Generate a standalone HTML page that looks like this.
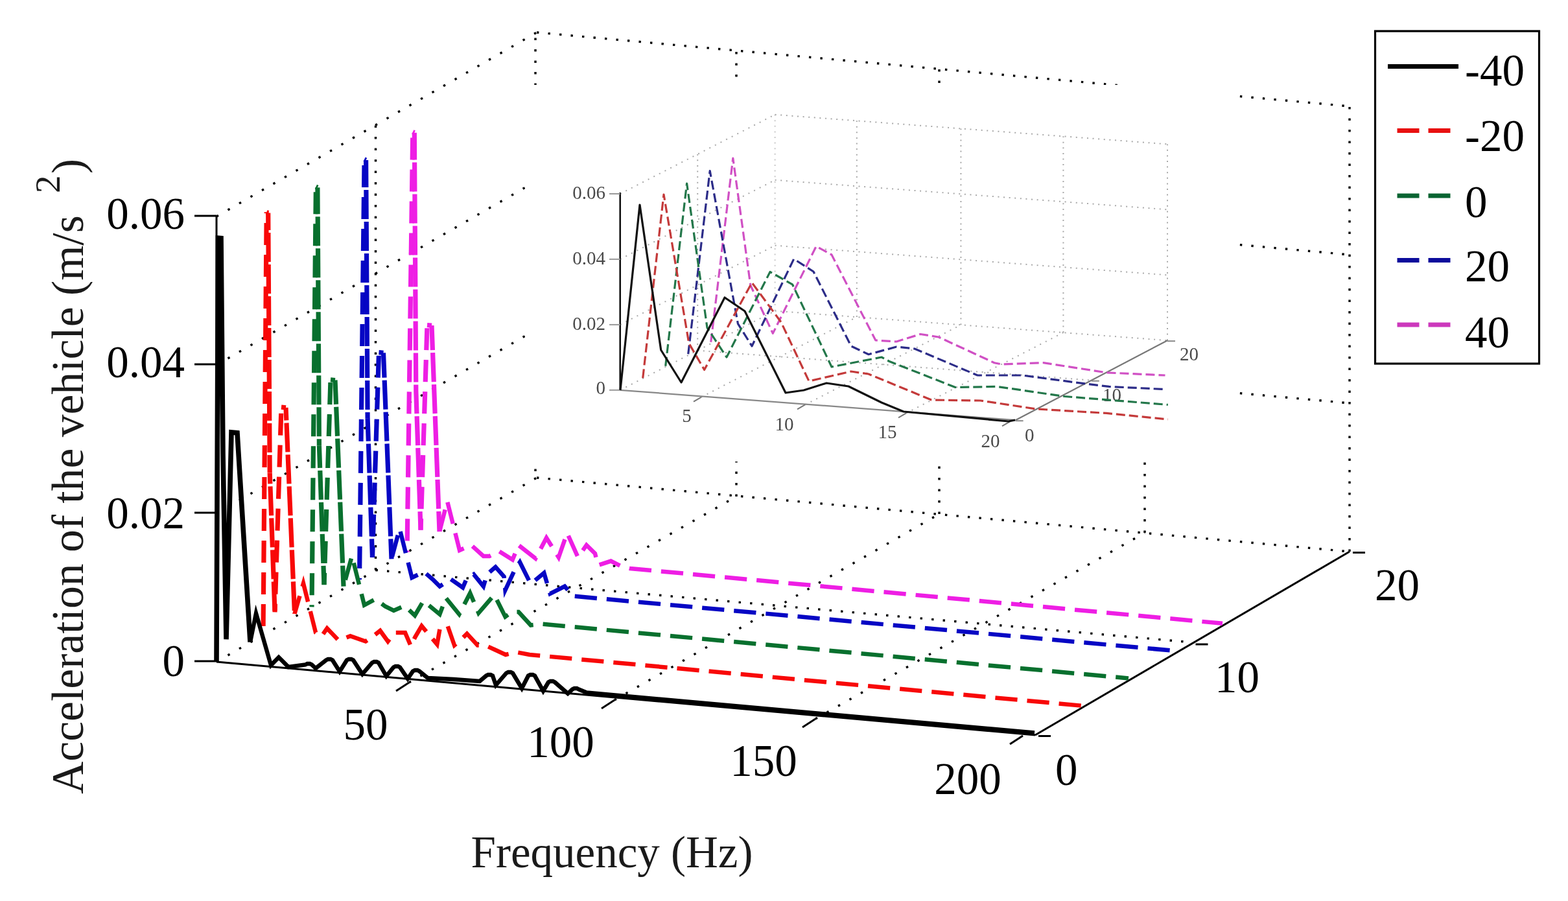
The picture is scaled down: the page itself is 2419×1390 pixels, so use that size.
<!DOCTYPE html>
<html><head><meta charset="utf-8"><title>Acceleration spectrum</title>
<style>html,body{margin:0;padding:0;background:#fff;}svg{display:block;}text{font-family:"Liberation Serif","Times New Roman",serif;}</style>
</head><body>
<svg width="2419" height="1390" viewBox="0 0 2419 1390">
<rect width="2419" height="1390" fill="#fff"/>
<line x1="334.0" y1="792.0" x2="828.0" y2="508.0" stroke="#000" stroke-width="3.4" stroke-dasharray="3.4 16.79" />
<line x1="334.0" y1="563.0" x2="828.0" y2="279.0" stroke="#000" stroke-width="3.4" stroke-dasharray="3.4 16.79" />
<line x1="334.0" y1="334.0" x2="828.0" y2="50.0" stroke="#000" stroke-width="3.4" stroke-dasharray="3.4 16.79" />
<line x1="334.0" y1="1021.0" x2="828.0" y2="737.0" stroke="#000" stroke-width="3.4" stroke-dasharray="3.4 16.79" />
<line x1="579.5" y1="879.5" x2="579.5" y2="192.5" stroke="#000" stroke-width="3.4" stroke-dasharray="3.4 14.10" />
<line x1="826.0" y1="727.0" x2="826.0" y2="50.0" stroke="#000" stroke-width="3.4" stroke-dasharray="3.4 14.10" />
<line x1="828.0" y1="737.0" x2="2082.0" y2="851.0" stroke="#000" stroke-width="3.4" stroke-dasharray="3.4 14.17" />
<line x1="828.0" y1="508.0" x2="2082.0" y2="622.0" stroke="#000" stroke-width="3.4" stroke-dasharray="3.4 14.17" />
<line x1="828.0" y1="279.0" x2="2082.0" y2="393.0" stroke="#000" stroke-width="3.4" stroke-dasharray="3.4 14.17" />
<line x1="828.0" y1="50.0" x2="2082.0" y2="164.0" stroke="#000" stroke-width="3.4" stroke-dasharray="3.4 14.17" />
<line x1="1136.0" y1="766.0" x2="1136.0" y2="79.0" stroke="#000" stroke-width="3.4" stroke-dasharray="3.4 14.10" />
<line x1="1449.0" y1="793.0" x2="1449.0" y2="106.0" stroke="#000" stroke-width="3.4" stroke-dasharray="3.4 14.10" />
<line x1="1766.0" y1="822.0" x2="1766.0" y2="135.0" stroke="#000" stroke-width="3.4" stroke-dasharray="3.4 14.10" />
<line x1="2082.0" y1="851.0" x2="2082.0" y2="164.0" stroke="#000" stroke-width="3.4" stroke-dasharray="3.4 14.10" />
<line x1="631.0" y1="1053.0" x2="1136.0" y2="766.0" stroke="#000" stroke-width="3.4" stroke-dasharray="3.4 16.73" />
<line x1="948.0" y1="1080.0" x2="1449.0" y2="793.0" stroke="#000" stroke-width="3.4" stroke-dasharray="3.4 16.77" />
<line x1="1258.0" y1="1109.0" x2="1766.0" y2="822.0" stroke="#000" stroke-width="3.4" stroke-dasharray="3.4 16.70" />
<line x1="579.5" y1="879.5" x2="1839.0" y2="991.0" stroke="#000" stroke-width="3.4" stroke-dasharray="3.4 14.17" />
<rect x="810" y="131" width="1092" height="581" fill="#fff"/>
<line x1="956.7" y1="601.8" x2="1195.6" y2="479.6" stroke="#a8a8a8" stroke-width="2" stroke-dasharray="2 7.66"/>
<line x1="956.7" y1="500.9" x2="1195.6" y2="378.7" stroke="#a8a8a8" stroke-width="2" stroke-dasharray="2 7.66"/>
<line x1="956.7" y1="399.9" x2="1195.6" y2="277.7" stroke="#a8a8a8" stroke-width="2" stroke-dasharray="2 7.66"/>
<line x1="956.7" y1="299.0" x2="1195.6" y2="176.8" stroke="#a8a8a8" stroke-width="2" stroke-dasharray="2 7.66"/>
<line x1="1076.2" y1="540.7" x2="1076.2" y2="237.9" stroke="#a8a8a8" stroke-width="2" stroke-dasharray="2 6.60"/>
<line x1="1195.6" y1="479.6" x2="1195.6" y2="176.8" stroke="#c8c8c8" stroke-width="2" stroke-dasharray="2 6.60"/>
<line x1="1195.6" y1="479.6" x2="1801.0" y2="525.2" stroke="#a8a8a8" stroke-width="2" stroke-dasharray="2 6.62"/>
<line x1="1195.6" y1="378.7" x2="1801.0" y2="424.3" stroke="#a8a8a8" stroke-width="2" stroke-dasharray="2 6.62"/>
<line x1="1195.6" y1="277.7" x2="1801.0" y2="323.3" stroke="#a8a8a8" stroke-width="2" stroke-dasharray="2 6.62"/>
<line x1="1195.6" y1="176.8" x2="1801.0" y2="222.4" stroke="#a8a8a8" stroke-width="2" stroke-dasharray="2 6.62"/>
<line x1="1321.8" y1="489.1" x2="1321.8" y2="186.3" stroke="#a8a8a8" stroke-width="2" stroke-dasharray="2 6.60"/>
<line x1="1082.0" y1="612.6" x2="1321.8" y2="489.1" stroke="#a8a8a8" stroke-width="2" stroke-dasharray="2 7.67"/>
<line x1="1482.4" y1="501.2" x2="1482.4" y2="198.4" stroke="#a8a8a8" stroke-width="2" stroke-dasharray="2 6.60"/>
<line x1="1242.0" y1="624.4" x2="1482.4" y2="501.2" stroke="#a8a8a8" stroke-width="2" stroke-dasharray="2 7.66"/>
<line x1="1640.4" y1="513.1" x2="1640.4" y2="210.3" stroke="#a8a8a8" stroke-width="2" stroke-dasharray="2 6.60"/>
<line x1="1398.0" y1="637.4" x2="1640.4" y2="513.1" stroke="#a8a8a8" stroke-width="2" stroke-dasharray="2 7.66"/>
<line x1="1801.0" y1="525.2" x2="1801.0" y2="222.4" stroke="#a8a8a8" stroke-width="2" stroke-dasharray="2 6.60"/>
<line x1="1076.2" y1="540.7" x2="1683.8" y2="586.7" stroke="#a8a8a8" stroke-width="2" stroke-dasharray="2 6.62"/>
<line x1="956.7" y1="296.99999999999994" x2="956.7" y2="601.8" stroke="#111" stroke-width="2.6"/>
<line x1="940" y1="601.8" x2="956.7" y2="601.8" stroke="#999" stroke-width="2"/>
<line x1="940" y1="500.9" x2="956.7" y2="500.9" stroke="#999" stroke-width="2"/>
<line x1="940" y1="399.9" x2="956.7" y2="399.9" stroke="#999" stroke-width="2"/>
<line x1="940" y1="299.0" x2="956.7" y2="299.0" stroke="#999" stroke-width="2"/>
<line x1="956.7" y1="601.8" x2="1566.6" y2="648.2" stroke="#888" stroke-width="2.2"/>
<line x1="1082" y1="612.6" x2="1070" y2="619.6" stroke="#777" stroke-width="2"/>
<line x1="1242" y1="624.4" x2="1230" y2="631.4" stroke="#777" stroke-width="2"/>
<line x1="1398" y1="637.4" x2="1386" y2="644.4" stroke="#777" stroke-width="2"/>
<line x1="1558" y1="650.3" x2="1546" y2="657.3" stroke="#777" stroke-width="2"/>
<line x1="1566.6" y1="648.2" x2="1801" y2="525.2" stroke="#777" stroke-width="2.2"/>
<line x1="1566.6" y1="649.2" x2="1578.6" y2="649.2" stroke="#888" stroke-width="2"/>
<line x1="1683.8" y1="587.7" x2="1695.8" y2="587.7" stroke="#888" stroke-width="2"/>
<line x1="1801.0" y1="526.2" x2="1813.0" y2="526.2" stroke="#888" stroke-width="2"/>
<text x="934" y="307" font-size="29" fill="#4a4a4a" text-anchor="end">0.06</text>
<text x="934" y="407.5" font-size="29" fill="#4a4a4a" text-anchor="end">0.04</text>
<text x="934" y="508.5" font-size="29" fill="#4a4a4a" text-anchor="end">0.02</text>
<text x="934" y="607.5" font-size="29" fill="#4a4a4a" text-anchor="end">0</text>
<text x="1059.5" y="651" font-size="29" fill="#4a4a4a" text-anchor="middle">5</text>
<text x="1210" y="664" font-size="29" fill="#4a4a4a" text-anchor="middle">10</text>
<text x="1369" y="676" font-size="29" fill="#4a4a4a" text-anchor="middle">15</text>
<text x="1528" y="690" font-size="29" fill="#4a4a4a" text-anchor="middle">20</text>
<text x="1581" y="681" font-size="29" fill="#4a4a4a">0</text>
<text x="1701" y="618.5" font-size="29" fill="#4a4a4a">10</text>
<text x="1820" y="556" font-size="29" fill="#4a4a4a">20</text>
<polyline points="1096.7,527.8 1130.8,244.2 1157.8,440.0 1192.3,514.4 1259.2,380.0 1283.0,393.0 1350.8,525.0 1383.0,527.0 1420.0,515.5 1448.0,520.0 1534.0,559.7 1545.0,562.0 1609.7,559.7 1706.9,574.8 1797.5,579.0" fill="none" stroke="#d050c4" stroke-width="3.2"  stroke-dasharray="14 6" stroke-linejoin="round"/>
<polyline points="1061.7,546.3 1095.2,263.6 1138.4,499.3 1160.0,534.0 1224.7,399.5 1255.0,419.0 1313.0,534.0 1340.0,546.7 1383.0,535.0 1411.0,538.0 1508.0,579.0 1577.0,579.0 1674.5,592.0 1711.0,596.4 1799.6,600.7" fill="none" stroke="#2c2c88" stroke-width="3.2"  stroke-dasharray="14 6" stroke-linejoin="round"/>
<polyline points="1026.7,564.8 1059.6,283.0 1091.0,505.7 1121.0,551.0 1188.0,419.4 1222.5,438.8 1283.0,566.0 1360.0,551.0 1372.0,557.5 1473.8,597.5 1538.5,596.4 1642.0,611.5 1801.8,624.4" fill="none" stroke="#23774a" stroke-width="3.2"  stroke-dasharray="14 6" stroke-linejoin="round"/>
<polyline points="991.7,583.3 1024.0,300.0 1062.8,529.5 1086.6,570.5 1160.0,436.0 1205.0,497.0 1248.0,588.0 1313.0,573.0 1340.0,577.0 1437.0,617.0 1512.6,618.0 1599.0,631.0 1707.0,637.4 1801.8,647.0" fill="none" stroke="#c43a3a" stroke-width="3.2"  stroke-dasharray="14 6" stroke-linejoin="round"/>
<polyline points="957.0,601.8 987.0,316.0 1019.7,540.0 1051.0,590.0 1118.0,459.0 1149.0,480.0 1212.0,606.0 1240.0,602.0 1275.0,591.0 1309.0,596.0 1360.0,621.0 1394.0,635.0 1556.0,650.0 1566.0,648.0" fill="none" stroke="#111" stroke-width="3.2"  stroke-linejoin="round"/>
<line x1="334.0" y1="334.0" x2="334.0" y2="1021.0" stroke="#000" stroke-width="3"/>
<line x1="300.0" y1="333.0" x2="334.0" y2="333.0" stroke="#000" stroke-width="3"/>
<line x1="300.0" y1="562.0" x2="334.0" y2="562.0" stroke="#000" stroke-width="3"/>
<line x1="300.0" y1="791.0" x2="334.0" y2="791.0" stroke="#000" stroke-width="3"/>
<line x1="300.0" y1="1020.0" x2="334.0" y2="1020.0" stroke="#000" stroke-width="3"/>
<line x1="334.0" y1="1021.0" x2="1597.0" y2="1134.0" stroke="#000" stroke-width="3"/>
<line x1="631.0" y1="1053.0" x2="611.0" y2="1066.0" stroke="#000" stroke-width="3"/>
<line x1="948.0" y1="1080.0" x2="928.0" y2="1093.0" stroke="#000" stroke-width="3"/>
<line x1="1258.0" y1="1109.0" x2="1238.0" y2="1122.0" stroke="#000" stroke-width="3"/>
<line x1="1578.0" y1="1135.0" x2="1558.0" y2="1148.0" stroke="#000" stroke-width="3"/>
<line x1="1597.0" y1="1134.0" x2="2082.0" y2="851.0" stroke="#000" stroke-width="3"/>
<line x1="1602.0" y1="1135.5" x2="1621.0" y2="1135.5" stroke="#000" stroke-width="3"/>
<line x1="1844.5" y1="994.0" x2="1863.5" y2="994.0" stroke="#000" stroke-width="3"/>
<line x1="2087.0" y1="852.5" x2="2106.0" y2="852.5" stroke="#000" stroke-width="3"/>
<line x1="628.0" y1="851.8" x2="636.8" y2="203.6" stroke="#ee1ee4" stroke-width="7.2" stroke-dasharray="34 15" stroke-dashoffset="31.6"/>
<line x1="636.8" y1="203.6" x2="639.3" y2="204.8" stroke="#ee1ee4" stroke-width="7.2"/>
<line x1="639.3" y1="204.8" x2="641.8" y2="603.0" stroke="#ee1ee4" stroke-width="7.2" stroke-dasharray="45 4" stroke-dashoffset="3.3"/>
<line x1="641.8" y1="603.0" x2="649.0" y2="817.6" stroke="#ee1ee4" stroke-width="7.2" stroke-dasharray="45 4" stroke-dashoffset="9.8"/>
<line x1="649.0" y1="817.6" x2="659.0" y2="501.5" stroke="#ee1ee4" stroke-width="7.2" stroke-dasharray="34 15" stroke-dashoffset="16.5"/>
<line x1="659.0" y1="501.5" x2="666.0" y2="502.1" stroke="#ee1ee4" stroke-width="7.2"/>
<line x1="666.0" y1="502.1" x2="678.0" y2="820.2" stroke="#ee1ee4" stroke-width="7.2" stroke-dasharray="45 4" stroke-dashoffset="7.0"/>
<polyline points="678.0,820.2 690.0,773.2 709.0,848.9 727.0,841.0 745.8,857.9 755.2,857.9 770.0,850.4 790.7,863.5 800.0,841.0 826.2,861.6 843.0,829.8 861.8,859.7 874.9,822.3 891.7,859.7 904.8,841.0 918.0,854.0 922.5,872.0 942.4,865.6 959.0,874.0 972.0,877.0 1886.0,961.8" fill="none" stroke="#ee1ee4" stroke-width="6.5"  stroke-dasharray="34.3 15" stroke-dashoffset="48.5" stroke-linejoin="miter" stroke-miterlimit="10"/>
<line x1="554.5" y1="894.1" x2="562.1" y2="245.8" stroke="#0606c4" stroke-width="7.2" stroke-dasharray="34 15" stroke-dashoffset="31.8"/>
<line x1="562.1" y1="245.8" x2="564.6" y2="247.0" stroke="#0606c4" stroke-width="7.2"/>
<line x1="564.6" y1="247.0" x2="567.1" y2="645.2" stroke="#0606c4" stroke-width="7.2" stroke-dasharray="45 4" stroke-dashoffset="3.0"/>
<line x1="567.1" y1="645.2" x2="574.5" y2="859.8" stroke="#0606c4" stroke-width="7.2" stroke-dasharray="45 4" stroke-dashoffset="9.6"/>
<line x1="574.5" y1="859.8" x2="584.5" y2="543.7" stroke="#0606c4" stroke-width="7.2" stroke-dasharray="34 15" stroke-dashoffset="16.8"/>
<line x1="584.5" y1="543.7" x2="591.5" y2="544.3" stroke="#0606c4" stroke-width="7.2"/>
<line x1="591.5" y1="544.3" x2="604.0" y2="862.4" stroke="#0606c4" stroke-width="7.2" stroke-dasharray="45 4" stroke-dashoffset="6.7"/>
<polyline points="604.0,862.4 616.5,815.5 635.5,891.2 654.0,882.2 667.2,893.4 678.4,904.6 695.3,893.4 714.0,906.5 719.6,893.4 730.8,886.0 745.8,904.6 751.4,886.0 764.5,874.7 777.6,889.7 779.5,910.3 794.4,878.4 802.0,867.2 818.8,900.9 839.3,884.0 848.7,915.9 871.2,904.6 884.2,919.6 1813.5,1004.1" fill="none" stroke="#0606c4" stroke-width="6.5"  stroke-dasharray="34.3 15" stroke-dashoffset="45.5" stroke-linejoin="miter" stroke-miterlimit="10"/>
<line x1="481.0" y1="936.4" x2="487.4" y2="288.0" stroke="#08702e" stroke-width="7.2" stroke-dasharray="34 15" stroke-dashoffset="30.9"/>
<line x1="487.4" y1="288.0" x2="489.9" y2="289.2" stroke="#08702e" stroke-width="7.2"/>
<line x1="489.9" y1="289.2" x2="492.4" y2="687.4" stroke="#08702e" stroke-width="7.2" stroke-dasharray="45 4" stroke-dashoffset="3.9"/>
<line x1="492.4" y1="687.4" x2="500.0" y2="902.1" stroke="#08702e" stroke-width="7.2" stroke-dasharray="45 4" stroke-dashoffset="10.5"/>
<line x1="500.0" y1="902.1" x2="510.0" y2="585.9" stroke="#08702e" stroke-width="7.2" stroke-dasharray="34 15" stroke-dashoffset="15.8"/>
<line x1="510.0" y1="585.9" x2="517.0" y2="586.5" stroke="#08702e" stroke-width="7.2"/>
<line x1="517.0" y1="586.5" x2="530.0" y2="904.7" stroke="#08702e" stroke-width="7.2" stroke-dasharray="45 4" stroke-dashoffset="7.7"/>
<polyline points="530.0,904.7 543.0,857.8 562.0,933.5 579.3,924.3 594.3,935.5 607.4,942.0 624.2,934.6 640.0,949.5 653.2,927.0 678.4,947.7 687.8,922.4 708.4,947.7 725.2,915.0 738.3,945.8 762.6,917.7 779.5,951.4 790.0,944.0 800.0,944.0 818.8,964.5 835.6,962.6 1741.0,1046.4" fill="none" stroke="#08702e" stroke-width="6.5"  stroke-dasharray="34.3 15" stroke-dashoffset="38.9" stroke-linejoin="miter" stroke-miterlimit="10"/>
<line x1="406.0" y1="978.7" x2="411.2" y2="327.2" stroke="#f80808" stroke-width="7.2" stroke-dasharray="34 15" stroke-dashoffset="36.3"/>
<line x1="411.2" y1="327.2" x2="413.7" y2="328.4" stroke="#f80808" stroke-width="7.2"/>
<line x1="413.7" y1="328.4" x2="416.2" y2="729.6" stroke="#f80808" stroke-width="7.2" stroke-dasharray="45 4" stroke-dashoffset="18.4"/>
<line x1="416.2" y1="729.6" x2="424.0" y2="944.3" stroke="#f80808" stroke-width="7.2" stroke-dasharray="45 4" stroke-dashoffset="28.1"/>
<line x1="424.0" y1="944.3" x2="434.0" y2="628.1" stroke="#f80808" stroke-width="7.2" stroke-dasharray="34 15" stroke-dashoffset="21.3"/>
<line x1="434.0" y1="628.1" x2="441.0" y2="628.8" stroke="#f80808" stroke-width="7.2"/>
<line x1="441.0" y1="628.8" x2="454.5" y2="946.9" stroke="#f80808" stroke-width="7.2" stroke-dasharray="45 4" stroke-dashoffset="25.3"/>
<polyline points="454.5,946.9 468.0,900.1 487.0,975.8 495.7,982.0 504.6,969.4 522.5,988.0 540.4,981.3 564.0,989.5 573.0,983.6 586.5,973.0 598.4,989.5 608.8,976.0 625.0,976.0 634.0,997.0 640.0,983.6 650.5,965.7 674.3,994.0 678.8,968.7 690.6,965.7 701.0,995.5 710.0,988.0 720.4,977.6 736.8,995.5 748.7,995.5 780.0,1010.0 796.0,1006.0 817.0,1010.0 1668.5,1088.7" fill="none" stroke="#f80808" stroke-width="6.5"  stroke-dasharray="34.3 15" stroke-dashoffset="5.7" stroke-linejoin="miter" stroke-miterlimit="10"/>
<polyline points="334.0,1021.0 336.5,367.2 341.0,367.6 344.0,700.9 349.0,986.3 357.0,667.0 366.0,667.8 386.0,990.5" fill="none" stroke="#000" stroke-width="7.6"   stroke-linejoin="miter" stroke-miterlimit="10"/>
<polyline points="386.0,990.5 395.0,946.3 418.0,1026.3 430.0,1014.0 445.0,1029.0 471.0,1025.5 474.0,1024.0 478.0,1024.0 481.0,1025.5 487.0,1031.0 503.0,1018.5 506.0,1017.0 510.0,1017.0 513.0,1018.5 524.0,1036.0 535.0,1018.5 538.0,1017.0 542.0,1017.0 545.0,1018.5 559.0,1040.0 574.0,1022.5 577.0,1021.0 581.0,1021.0 584.0,1022.5 596.0,1043.0 607.0,1029.5 610.0,1028.0 614.0,1028.0 617.0,1029.5 629.0,1047.0 637.0,1035.5 640.0,1034.0 644.0,1034.0 647.0,1035.5 660.0,1046.0 700.0,1048.0 740.0,1051.0 750.0,1042.5 753.0,1041.0 757.0,1041.0 760.0,1042.5 765.0,1057.0 781.0,1038.5 784.0,1037.0 788.0,1037.0 791.0,1038.5 805.0,1062.0 815.0,1042.5 818.0,1041.0 822.0,1041.0 825.0,1042.5 838.0,1066.0 846.0,1052.5 849.0,1051.0 853.0,1051.0 856.0,1052.5 876.0,1070.0 883.0,1063.5 886.0,1062.0 890.0,1062.0 893.0,1063.5 905.0,1068.5 1596.0,1130.5" fill="none" stroke="#000" stroke-width="6.4"   stroke-linejoin="miter" stroke-miterlimit="10"/>
<rect x="2121.5" y="48" width="253" height="513" fill="#fff" stroke="#000" stroke-width="3.2"/>
<line x1="2141" y1="102.5" x2="2250" y2="102.5" stroke="#000" stroke-width="7"/>
<text x="2260" y="131.5" font-size="69">-40</text>
<line x1="2155.5" y1="201.5" x2="2239" y2="201.5" stroke="#e81010" stroke-width="7" stroke-dasharray="34 14"/>
<text x="2260" y="233" font-size="69">-20</text>
<line x1="2155.5" y1="302" x2="2239" y2="302" stroke="#0a6432" stroke-width="7" stroke-dasharray="34 14"/>
<text x="2260" y="334.5" font-size="69">0</text>
<line x1="2155.5" y1="401.5" x2="2239" y2="401.5" stroke="#0c0c9c" stroke-width="7" stroke-dasharray="34 14"/>
<text x="2260" y="434" font-size="69">20</text>
<line x1="2155.5" y1="501" x2="2239" y2="501" stroke="#cc38bc" stroke-width="7" stroke-dasharray="34 14"/>
<text x="2260" y="536" font-size="69">40</text>
<text x="285" y="352.5" font-size="69" text-anchor="end">0.06</text>
<text x="285" y="582" font-size="69" text-anchor="end">0.04</text>
<text x="285" y="814.5" font-size="69" text-anchor="end">0.02</text>
<text x="285" y="1042.5" font-size="69" text-anchor="end">0</text>
<text x="564" y="1141" font-size="69" text-anchor="middle">50</text>
<text x="865" y="1168" font-size="69" text-anchor="middle">100</text>
<text x="1178" y="1197" font-size="69" text-anchor="middle">150</text>
<text x="1493" y="1225" font-size="69" text-anchor="middle">200</text>
<text x="1628" y="1211" font-size="69">0</text>
<text x="1874" y="1067.5" font-size="69">10</text>
<text x="2121" y="926" font-size="69">20</text>
<text x="944" y="1338" font-size="69" text-anchor="middle" fill="#1a1a1a">Frequency (Hz)</text>
<text transform="translate(128,1225) rotate(-90)" font-size="69.6" fill="#1a1a1a">Acceleration of the vehicle (m/s</text>
<text transform="translate(92,298) rotate(-90)" font-size="55" fill="#1a1a1a">2</text>
<text transform="translate(128,268) rotate(-90)" font-size="69" fill="#1a1a1a">)</text>
</svg></body></html>
